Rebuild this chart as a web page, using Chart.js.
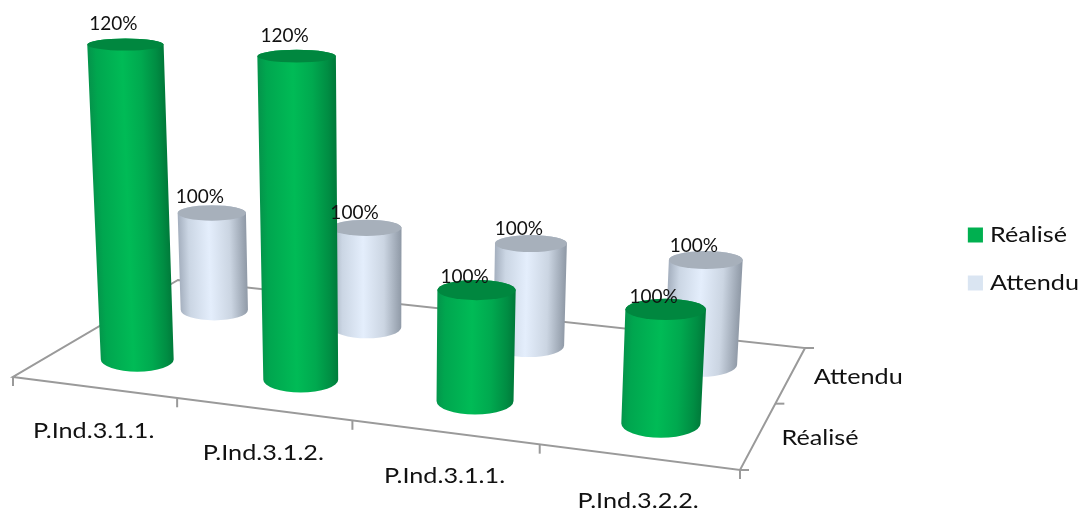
<!DOCTYPE html>
<html lang="fr">
<head>
<meta charset="utf-8">
<title>Réalisé / Attendu</title>
<script src="https://cdn.jsdelivr.net/npm/chart.js@4"></script>
<style>
  html, body { margin: 0; padding: 0; background: #fff; }
  canvas { display: block; }
</style>
</head>
<body>
<canvas id="chart" width="1082" height="508"></canvas>
<script>
const categories = ['P.Ind.3.1.1.', 'P.Ind.3.1.2.', 'P.Ind.3.1.1.', 'P.Ind.3.2.2.'];
const realise = [120, 120, 100, 100];
const attendu = [100, 100, 100, 100];
const axisMin = 90;
const axisMax = 130;

const FONT = 'Lato, "Open Sans", sans-serif';
const TEXT_STRETCH = 1.2;       // the labels are set in a wide cut of the face

// Floor of the 3D box on screen: front-left, front-right, back-right, back-left.
const floor = [[13, 377], [740, 470], [805, 348], [178, 280]];

// Square-to-quad homography for the floor plane (u along categories, v along depth).
const floorMap = (() => {
  const [[x0, y0], [x1, y1], [x2, y2], [x3, y3]] = floor;
  const dx1 = x1 - x2, dx2 = x3 - x2, sx = x0 - x1 + x2 - x3;
  const dy1 = y1 - y2, dy2 = y3 - y2, sy = y0 - y1 + y2 - y3;
  const den = dx1 * dy2 - dx2 * dy1;
  const g = (sx * dy2 - dx2 * sy) / den;
  const h = (dx1 * sy - sx * dy1) / den;
  const a = x1 - x0 + g * x1, b = x3 - x0 + h * x3;
  const d = y1 - y0 + g * y1, e = y3 - y0 + h * y3;
  return (u, v) => {
    const w = 1 + g * u + h * v;
    // The small bow term pulls mid-span positions left, as the camera lens does.
    return { x: (a * u + b * v + x0) / w - 12 * u * (1 - u), y: (d * u + e * v + y0) / w, w };
  };
})();

const RISE_PER_UNIT = 10.8;     // on-screen pixels per percentage point at w = 1
const BAR_WIDTH = 75;           // cylinder diameter at w = 1
const VERTICAL_VP_X = 385;      // verticals converge below this x
const VERTICAL_VP_DIST = 6600;

const palettes = [
  {
    side: [[0, '#04954b'], [0.1, '#00a64f'], [0.45, '#00bb56'], [0.7, '#00a94f'], [0.9, '#008d43'], [1, '#007a3a']],
    top: '#00873f'
  },
  {
    side: [[0, '#a5b0bf'], [0.15, '#cbd6e4'], [0.45, '#e4eefc'], [0.75, '#cbd5e2'], [1, '#8f99a6']],
    top: '#a7b0bb'
  }
];

// Ellipse squash grows toward the bottom of the picture, as the view looks further down.
function ellipseRatio(y) { return 0.14 + y * 0.0004; }

function drawCylinder(ctx, base, rise, palette) {
  const bw = BAR_WIDTH / base.w;
  const lean = rise / VERTICAL_VP_DIST;
  const tx = base.x + (base.x - VERTICAL_VP_X) * lean;
  const ty = base.y - rise;
  const tw = bw * (1 + lean);
  const bottomRy = bw / 2 * (ellipseRatio(base.y) + 0.05);
  const topRy = tw / 2 * ellipseRatio(ty);

  const ax = tx - base.x, ay = ty - base.y, len = Math.hypot(ax, ay);
  const px = -ay / len, py = ax / len;
  const mx = (tx + base.x) / 2, my = (ty + base.y) / 2, hw = (tw + bw) / 4;
  const grad = ctx.createLinearGradient(mx - px * hw, my - py * hw, mx + px * hw, my + py * hw);
  palette.side.forEach(([stop, colour]) => grad.addColorStop(stop, colour));

  ctx.beginPath();
  ctx.moveTo(tx - tw / 2, ty);
  ctx.lineTo(base.x - bw / 2, base.y);
  ctx.ellipse(base.x, base.y, bw / 2, bottomRy, 0, Math.PI, 0, true);
  ctx.lineTo(tx + tw / 2, ty);
  ctx.ellipse(tx, ty, tw / 2, topRy, 0, 0, Math.PI, true);
  ctx.closePath();
  ctx.fillStyle = grad;
  ctx.fill();

  ctx.beginPath();
  ctx.ellipse(tx, ty, tw / 2, topRy, 0, 0, Math.PI * 2);
  ctx.fillStyle = palette.top;
  ctx.fill();

  return { x: tx, y: ty };
}

function line(ctx, a, b) {
  ctx.beginPath();
  ctx.moveTo(a.x, a.y);
  ctx.lineTo(b.x, b.y);
  ctx.stroke();
}

function wideText(ctx, text, x, y) {
  ctx.save();
  ctx.translate(x, y);
  ctx.scale(TEXT_STRETCH, 1);
  ctx.fillText(text, 0, 0);
  ctx.restore();
}

const cylinders3d = {
  id: 'cylinders3d',
  // The legend shares the wide text of the rest of the chart.
  afterLayout(chart) {
    const legend = chart.legend;
    if (legend.wide) return;
    const drawLegend = legend.draw.bind(legend);
    legend.wide = true;
    legend.draw = area => {
      const { ctx } = chart;
      ctx.save();
      ctx.translate(legend.left, 0);
      ctx.scale(TEXT_STRETCH, 1);
      ctx.translate(-legend.left, 0);
      drawLegend(area);
      ctx.restore();
    };
  },
  // The flat bars still provide the layout; they are rendered as cylinders here.
  beforeDatasetsDraw(chart) {
    const { ctx, chartArea, scales } = chart;
    const n = categories.length;
    const rows = chart.data.datasets.length;
    const riseGain = RISE_PER_UNIT * (axisMax - axisMin) / chartArea.height;
    const basePixel = scales.y.getBasePixel();

    ctx.save();
    // Floor outline and ticks
    ctx.strokeStyle = '#9a9a9a';
    ctx.lineWidth = 2;
    ctx.beginPath();
    floor.forEach(([x, y], i) => (i ? ctx.lineTo(x, y) : ctx.moveTo(x, y)));
    ctx.closePath();
    ctx.stroke();
    for (let i = 0; i <= n; i++) {
      const p = floorMap(i / n, 0);
      line(ctx, p, { x: p.x, y: p.y + 9 });
    }
    for (let j = 0; j <= rows; j++) {
      const p = floorMap(1, j / rows);
      line(ctx, p, { x: p.x + 9, y: p.y });
    }

    // Category labels under the front edge, series labels beside the depth edge
    ctx.fillStyle = '#111';
    ctx.font = '21px ' + FONT;
    ctx.textBaseline = 'middle';
    ctx.textAlign = 'center';
    for (let i = 0; i < n; i++) {
      const p = floorMap((i + 0.5) / n, 0);
      wideText(ctx, scales.x.getLabelForValue(i), p.x, p.y + 44);
    }
    ctx.textAlign = 'left';
    chart.data.datasets.forEach((ds, j) => {
      const p = floorMap(1, (j + 0.5) / rows);
      wideText(ctx, ds.label, p.x + 23, p.y + 3);
    });

    // Back row first so the front row overlaps it
    const labels = [];
    for (let j = rows - 1; j >= 0; j--) {
      const meta = chart.getDatasetMeta(j);
      meta.data.forEach((bar, i) => {
        const u = (bar.x - chartArea.left) / chartArea.width;
        const base = floorMap(u, (j + 0.5) / rows);
        const rise = (basePixel - bar.y) * riseGain / base.w;
        const top = drawCylinder(ctx, base, rise, palettes[j]);
        labels.push({
          text: chart.data.datasets[j].data[i] + '%',
          x: top.x - 12,
          y: top.y - 22 + top.y * 0.03   // labels drop closer to the lower cylinders
        });
      });
    }

    // Value labels sit above every cylinder
    ctx.fillStyle = '#111';
    ctx.font = '19px ' + FONT;
    ctx.textAlign = 'center';
    labels.forEach(l => ctx.fillText(l.text, l.x, l.y));
    ctx.restore();
    return false;
  }
};

new Chart(document.getElementById('chart'), {
  type: 'bar',
  data: {
    labels: categories,
    datasets: [
      { label: 'Réalisé', data: realise, backgroundColor: '#00b050', borderColor: '#00b050', borderWidth: 9.2 },
      { label: 'Attendu', data: attendu, backgroundColor: '#dae5f2', borderColor: '#dae5f2', borderWidth: 9.2 }
    ]
  },
  options: {
    responsive: false,
    animation: false,
    layout: { padding: { top: 10, right: 16 } },
    datasets: { bar: { grouped: false } },
    scales: {
      x: { display: false },
      y: { display: false, min: axisMin, max: axisMax }
    },
    plugins: {
      tooltip: { enabled: false },
      legend: {
        position: 'right',
        labels: {
          boxWidth: 3.4,
          boxHeight: 5.8,
          padding: 27,
          color: '#111',
          font: { family: FONT, size: 21 }
        }
      }
    }
  },
  plugins: [cylinders3d]
});
</script>
</body>
</html>
